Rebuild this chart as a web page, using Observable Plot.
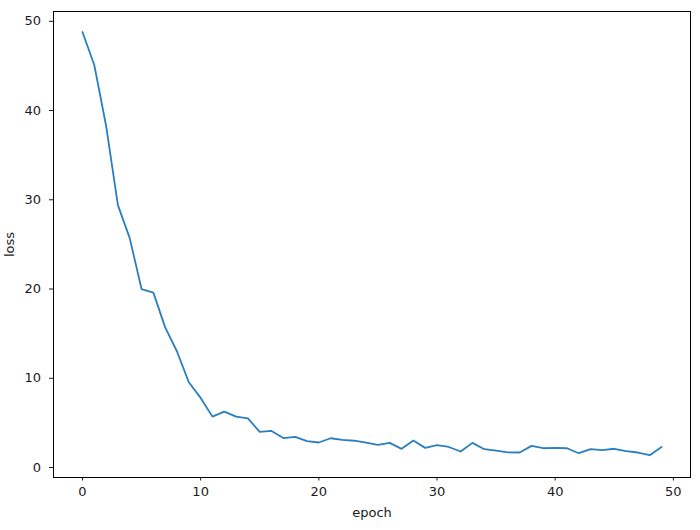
<!DOCTYPE html>
<html>
<head>
<meta charset="utf-8">
<script src="https://cdn.jsdelivr.net/npm/d3@7"></script>
<script src="https://cdn.jsdelivr.net/npm/@observablehq/plot@0.6"></script>
<style>
  html, body { margin: 0; padding: 0; background: #fff; }
  #chart svg { display: block; }
</style>
</head>
<body>
<div id="chart"></div>
<script>
const epochs = [0,1,2,3,4,5,6,7,8,9,10,11,12,13,14,15,16,17,18,19,20,21,22,23,24,25,26,27,28,29,30,31,32,33,34,35,36,37,38,39,40,41,42,43,44,45,46,47,48,49];
const loss = [48.8, 45.1, 38.3, 29.4, 25.7, 20.0, 19.6, 15.7, 13.0, 9.55, 7.8, 5.7, 6.26, 5.7, 5.5, 4.0, 4.1, 3.3, 3.43, 2.95, 2.8, 3.28, 3.1, 3.0, 2.8, 2.54, 2.76, 2.09, 3.02, 2.2, 2.5, 2.3, 1.79, 2.76, 2.05, 1.9, 1.7, 1.68, 2.42, 2.16, 2.2, 2.16, 1.6, 2.05, 1.94, 2.1, 1.83, 1.68, 1.38, 2.3];
const xTicks = [0, 10, 20, 30, 40, 50];
const yTicks = [0, 10, 20, 30, 40, 50];

const data = epochs.map((e, i) => ({epoch: e, loss: loss[i]}));

const chart = Plot.plot({
  width: 700,
  height: 530,
  marginLeft: 53,
  marginRight: 10,
  marginTop: 11,
  marginBottom: 53,
  style: {fontFamily: "DejaVu Sans", fontSize: "13px", color: "#1a1a1a", background: "#fff"},
  x: {domain: [-2.45, 51.45]},
  y: {domain: [-1.12, 51.1]},
  marks: [
    Plot.axisX(xTicks, {tickSize: 3.5, tickPadding: 5.5, label: "epoch", labelAnchor: "center", labelArrow: "none", labelOffset: 39, fontSize: 13}),
    Plot.axisY(yTicks, {tickSize: 4, tickPadding: 8.5, label: "loss", labelAnchor: "center", labelArrow: "none", labelOffset: 49, fontSize: 13}),
    Plot.line(data, {x: "epoch", y: "loss", stroke: "#2a7fc0", strokeWidth: 1.8}),
    Plot.frame({stroke: "#000", strokeWidth: 1})
  ]
});
document.getElementById("chart").appendChild(chart);
</script>
</body>
</html>
